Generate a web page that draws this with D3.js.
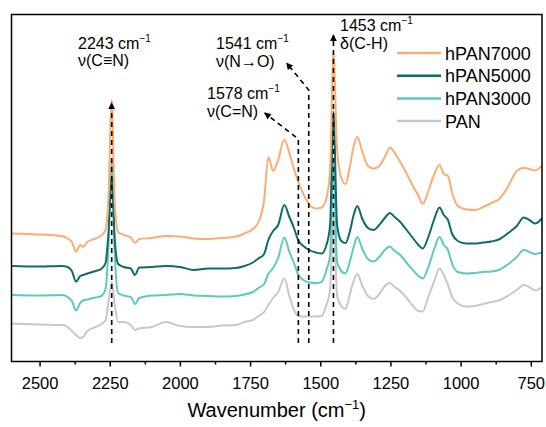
<!DOCTYPE html>
<html>
<head>
<meta charset="utf-8">
<script src="https://cdn.jsdelivr.net/npm/d3@7"></script>
<style>
  body { margin: 0; background: #fff; }
  text { font-family: Arial, "Liberation Sans", sans-serif; }
</style>
</head>
<body>
<script>
// FTIR spectra (absorbance, arbitrary units, stacked)
const wavenumbers = [2600, 2500, 2420, 2400, 2385, 2370, 2355, 2345, 2330, 2300,
  2280, 2265, 2255, 2243, 2232, 2220, 2200, 2175, 2160, 2145,
  2100, 2050, 2000, 1950, 1900, 1850, 1800, 1770, 1740, 1720,
  1700, 1685, 1668, 1650, 1628, 1610, 1595, 1578, 1560, 1540,
  1515, 1495, 1478, 1465, 1453, 1440, 1425, 1410, 1395, 1380,
  1368, 1350, 1330, 1310, 1290, 1270, 1252, 1235, 1215, 1195,
  1170, 1150, 1135, 1115, 1095, 1075, 1060, 1045, 1030, 1010,
  980, 950, 920, 890, 860, 830, 800, 775, 755, 735, 710];

const hPAN7000 = [1.280, 1.270, 1.255, 1.230, 1.195, 1.100, 1.165, 1.145, 1.195, 1.230,
  1.260, 1.315, 1.615, 2.615, 1.565, 1.295, 1.265, 1.240, 1.185, 1.225,
  1.235, 1.255, 1.250, 1.230, 1.225, 1.235, 1.250, 1.280, 1.325, 1.395,
  1.615, 2.045, 1.905, 2.015, 2.220, 2.085, 1.935, 1.795, 1.675, 1.575,
  1.530, 1.540, 1.635, 1.915, 3.095, 2.115, 1.835, 1.775, 1.945, 2.165,
  2.245, 2.095, 1.955, 1.930, 1.955, 2.045, 2.140, 2.085, 1.995, 1.895,
  1.755, 1.655, 1.575, 1.705, 1.865, 1.965, 1.875, 1.855, 1.685, 1.555,
  1.520, 1.515, 1.545, 1.585, 1.630, 1.755, 1.905, 1.935, 1.925, 1.910, 1.955];

const hPAN5000 = [0.955, 0.950, 0.955, 0.945, 0.905, 0.800, 0.855, 0.865, 0.880, 0.905,
  0.925, 0.985, 1.265, 1.845, 1.215, 0.975, 0.945, 0.930, 0.865, 0.940,
  0.945, 0.955, 0.945, 0.915, 0.930, 0.930, 0.935, 0.955, 0.990, 1.030,
  1.075, 1.215, 1.305, 1.365, 1.565, 1.445, 1.345, 1.210, 1.155, 1.115,
  1.090, 1.080, 1.165, 1.365, 2.495, 1.365, 1.205, 1.185, 1.295, 1.475,
  1.555, 1.425, 1.335, 1.315, 1.365, 1.435, 1.485, 1.445, 1.395, 1.325,
  1.235, 1.165, 1.130, 1.245, 1.415, 1.540, 1.465, 1.415, 1.275, 1.205,
  1.180, 1.180, 1.190, 1.200, 1.225, 1.285, 1.355, 1.440, 1.415, 1.380, 1.430];

const hPAN3000 = [0.665, 0.660, 0.665, 0.645, 0.605, 0.510, 0.585, 0.610, 0.620, 0.640,
  0.655, 0.725, 1.115, 2.015, 1.065, 0.685, 0.660, 0.645, 0.575, 0.635,
  0.660, 0.665, 0.675, 0.660, 0.655, 0.650, 0.655, 0.670, 0.695, 0.735,
  0.775, 0.875, 0.935, 1.035, 1.240, 1.095, 0.995, 0.865, 0.815, 0.790,
  0.785, 0.795, 0.915, 1.065, 1.995, 0.995, 0.905, 0.880, 0.995, 1.155,
  1.245, 1.125, 1.025, 1.000, 1.045, 1.115, 1.150, 1.105, 1.065, 0.995,
  0.915, 0.855, 0.830, 0.945, 1.115, 1.245, 1.165, 1.115, 0.975, 0.895,
  0.880, 0.885, 0.895, 0.900, 0.920, 0.975, 1.045, 1.115, 1.095, 1.075, 1.090];

const PAN = [0.380, 0.370, 0.365, 0.345, 0.305, 0.265, 0.235, 0.245, 0.305, 0.345,
  0.375, 0.415, 0.585, 0.795, 0.565, 0.395, 0.395, 0.365, 0.315, 0.330,
  0.345, 0.395, 0.355, 0.345, 0.345, 0.360, 0.365, 0.395, 0.415, 0.455,
  0.495, 0.565, 0.635, 0.695, 0.830, 0.655, 0.525, 0.455, 0.450, 0.450,
  0.450, 0.455, 0.565, 0.715, 1.465, 0.655, 0.555, 0.525, 0.665, 0.815,
  0.875, 0.755, 0.655, 0.625, 0.675, 0.755, 0.785, 0.745, 0.705, 0.645,
  0.555, 0.505, 0.500, 0.645, 0.795, 0.930, 0.865, 0.765, 0.645, 0.580,
  0.550, 0.555, 0.575, 0.595, 0.615, 0.660, 0.715, 0.765, 0.745, 0.710, 0.745];

const seriesNames = ['hPAN7000', 'hPAN5000', 'hPAN3000', 'PAN'];
const seriesColors = ['#ffab73', '#0d6b6b', '#5ec9c1', '#c8c8c8'];
const xTicks = [2500, 2250, 2000, 1750, 1500, 1250, 1000, 750];
const xMinorTicks = [2375, 2125, 1875, 1625, 1375, 1125, 875];

// marked bands: wavenumber, label, assignment
const bandPos = [2243, 1541, 1578, 1453];
const bandLabels = ['2243 cm', '1541 cm', '1578 cm', '1453 cm'];
const bandNames = ['\u03bd(C\u2261N)', '\u03bd(N\u2192O)', '\u03bd(C=N)', '\u03b4(C-H)'];

const width = 546, height = 427;
const margin = {top: 14.5, right: 4, bottom: 65.5, left: 11.5};
const w = width - margin.left - margin.right;
const h = height - margin.top - margin.bottom;

const svg = d3.select('body').append('svg')
  .attr('width', width)
  .attr('height', height);

const g = svg.append('g')
  .attr('transform', `translate(${margin.left},${margin.top})`);

const x = d3.scaleLinear().domain([2600, 710]).range([0, w]);
const y = d3.scaleLinear().domain([0, 3.47]).range([h, 0]);

svg.append('defs').append('clipPath').attr('id', 'clip')
  .append('rect').attr('width', w).attr('height', h);

const arrow = svg.select('defs').append('marker')
  .attr('id', 'arr')
  .attr('viewBox', '0 0 10 10')
  .attr('refX', 9).attr('refY', 5)
  .attr('markerWidth', 7).attr('markerHeight', 7)
  .attr('markerUnits', 'userSpaceOnUse')
  .attr('orient', 'auto');
arrow.append('path').attr('d', 'M0,0L10,5L0,10z').attr('fill', '#000');

const allSeries = [hPAN7000, hPAN5000, hPAN3000, PAN];
const line = d3.line()
  .x((d, i) => x(wavenumbers[i]))
  .y(d => y(d))
  .curve(d3.curveMonotoneX);

// draw PAN first so hPAN7000 sits on top
const plot = g.append('g').attr('clip-path', 'url(#clip)');
for (let k = allSeries.length - 1; k >= 0; k--) {
  plot.append('path')
    .datum(allSeries[k])
    .attr('fill', 'none')
    .attr('stroke', seriesColors[k])
    .attr('stroke-width', 2)
    .attr('stroke-linejoin', 'round')
    .attr('d', line);
}

// dashed guide lines (points in wavenumber / absorbance)
const guide = d3.line().x(d => x(d[0])).y(d => y(d[1]));
const guides = [
  [[2243, 0.185], [2243, 2.585]],
  [[1541, 0.185], [1541, 2.715], [1620, 2.985]],
  [[1578, 0.185], [1578, 2.225], [1698, 2.485]],
  [[1453, 0.185], [1453, 3.265]]
];
guides.forEach(pts => {
  g.append('path')
    .attr('d', guide(pts))
    .attr('fill', 'none')
    .attr('stroke', '#000')
    .attr('stroke-width', 1.6)
    .attr('stroke-dasharray', '5,4')
    .attr('marker-end', 'url(#arr)');
});

// band labels
const labelPos = [[78, 49, 66], [216, 49, 67], [207, 99, 117], [340, 31, 49]];
bandPos.forEach((b, i) => {
  const t = svg.append('text')
    .attr('x', labelPos[i][0]).attr('y', labelPos[i][1])
    .attr('font-size', 16).attr('fill', '#000');
  t.append('tspan').text(bandLabels[i]);
  t.append('tspan').attr('font-size', 10).attr('dy', -7).text('\u22121');
  svg.append('text')
    .attr('x', labelPos[i][0]).attr('y', labelPos[i][2])
    .attr('font-size', 16).attr('fill', '#000')
    .text(bandNames[i]);
});

// frame
g.append('rect')
  .attr('width', w).attr('height', h)
  .attr('fill', 'none')
  .attr('stroke', '#000')
  .attr('stroke-width', 1.5);

// x axis
const xAxisG = g.append('g')
  .attr('transform', `translate(0,${h})`)
  .call(d3.axisBottom(x).tickValues(xTicks).tickSize(5).tickPadding(11).tickFormat(d3.format('d')));
xAxisG.select('.domain').remove();
xAxisG.selectAll('line').attr('stroke-width', 1.5);
xAxisG.selectAll('text').attr('font-size', 16.5).attr('fill', '#000')
  .attr('font-family', 'Arial, "Liberation Sans", sans-serif');

const minorG = g.append('g')
  .attr('transform', `translate(0,${h})`)
  .call(d3.axisBottom(x).tickValues(xMinorTicks).tickSize(3).tickFormat(''));
minorG.select('.domain').remove();
minorG.selectAll('line').attr('stroke-width', 1.5);

// axis title
const title = svg.append('text')
  .attr('x', margin.left + w / 2).attr('y', 417)
  .attr('text-anchor', 'middle')
  .attr('font-size', 20).attr('fill', '#000');
title.append('tspan').text('Wavenumber (cm');
title.append('tspan').attr('font-size', 13).attr('dy', -8).text('\u22121');
title.append('tspan').attr('dy', 8).text(')');

// legend
const legend = svg.append('g').attr('transform', 'translate(397,53)');
seriesNames.forEach((name, i) => {
  const row = legend.append('g').attr('transform', `translate(0,${i * 22.7})`);
  row.append('line')
    .attr('x1', 0).attr('x2', 44)
    .attr('stroke', seriesColors[i])
    .attr('stroke-width', 2.5);
  row.append('text')
    .attr('x', 48).attr('y', 6.5)
    .attr('font-size', 18).attr('fill', '#000')
    .text(name);
});
</script>
</body>
</html>
